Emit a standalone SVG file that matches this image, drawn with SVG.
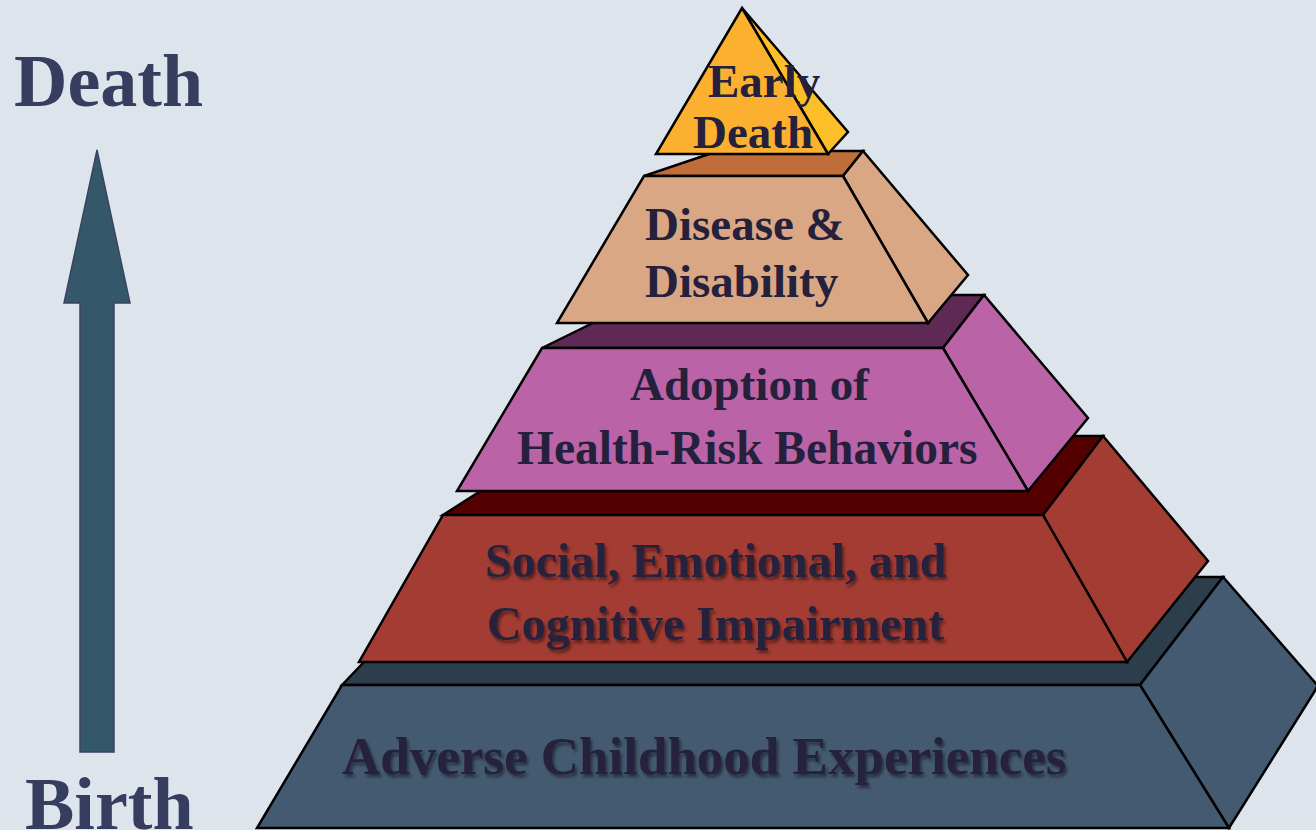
<svg xmlns="http://www.w3.org/2000/svg" width="1316" height="830" viewBox="0 0 1316 830">
<style>
.f{stroke:#000;stroke-width:2.5;stroke-linejoin:miter}
.lbl{font-family:"Liberation Serif","Times New Roman",serif;font-weight:bold;fill:#25213c}
.axis{font-family:"Liberation Serif","Times New Roman",serif;font-weight:bold;fill:#363d5e;font-size:74px}
</style>
<defs>
<filter id="sh" x="-5%" y="-20%" width="110%" height="150%">
<feDropShadow dx="2" dy="3" stdDeviation="1.8" flood-color="#000" flood-opacity="0.45"/>
</filter>
</defs>
<rect width="1316" height="830" fill="#dde4ec"/>
<g id="axis">
<polygon points="97,150 130,303 114,303 114,752 80,752 80,303 64,303" fill="#34586a" stroke="#3b4262" stroke-width="1.5"/>
<text class="axis" x="14" y="106">Death</text>
<text class="axis" x="25" y="829">Birth</text>
</g>
<g id="tier5">
<polygon class="f" points="342,685 445,577 1223,577 1140,685" fill="#2c3d4c"/>
<polygon class="f" points="1140,685 1223,577 1318,686 1229,828" fill="#445a70"/>
<polygon class="f" points="342,685 1140,685 1229,828 257,828" fill="#445a70"/>
<text class="lbl" x="342" y="774" font-size="53" filter="url(#sh)">Adverse Childhood Experiences</text>
</g>
<g id="tier4">
<polygon class="f" points="443,515 567,436 1103,436 1043,515" fill="#550000"/>
<polygon class="f" points="1043,515 1103,436 1208,561 1127,662" fill="#a33c33"/>
<polygon class="f" points="443,515 1043,515 1127,662 359,662" fill="#a33c33"/>
<text class="lbl" x="485" y="577" font-size="48" filter="url(#sh)">Social, Emotional, and</text>
<text class="lbl" x="487" y="640" font-size="48" filter="url(#sh)">Cognitive Impairment</text>
</g>
<g id="tier3">
<polygon class="f" points="542,348 650,295 984,295 943,348" fill="#5e2a55"/>
<polygon class="f" points="943,348 984,295 1088,418 1028,491" fill="#bb63a7"/>
<polygon class="f" points="542,348 943,348 1028,491 457,491" fill="#bb63a7"/>
<text class="lbl" x="630" y="400" font-size="47">Adoption of</text>
<text class="lbl" x="517" y="464" font-size="47.5">Health-Risk Behaviors</text>
</g>
<g id="tier2">
<polygon class="f" points="644,176 718,151 863,151 843,176" fill="#bf6e3a"/>
<polygon class="f" points="843,176 863,151 968,275 928,323" fill="#daa785"/>
<polygon class="f" points="644,176 843,176 928,323 557,323" fill="#daa785"/>
<text class="lbl" x="645" y="240" font-size="47">Disease &amp;</text>
<text class="lbl" x="645" y="297" font-size="47">Disability</text>
</g>
<g id="tier1">
<polygon class="f" points="742,8 848,132 828,154" fill="#fdbf27"/>
<polygon class="f" points="742,8 828,154 656,154" fill="#fbb030"/>
<text class="lbl" x="708" y="97" font-size="47">Early</text>
<text class="lbl" x="693" y="148" font-size="47">Death</text>
</g>
<g id="connectors"/>
</svg>
